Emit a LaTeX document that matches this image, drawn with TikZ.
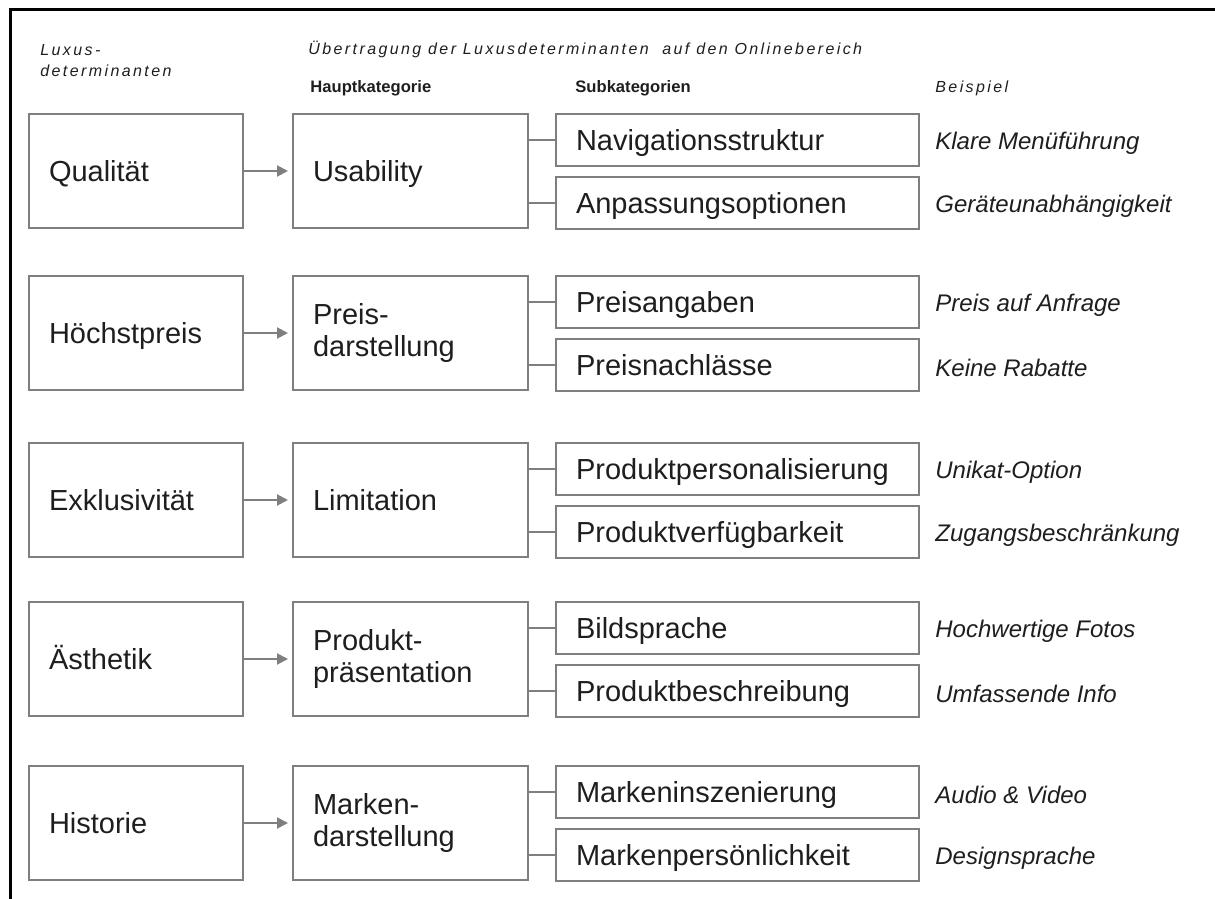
\documentclass[tikz,border=0pt]{standalone}
\usepackage{fontspec}
\setmainfont{Liberation Sans}
\usepackage{xcolor}
\usetikzlibrary{arrows.meta, positioning}

\definecolor{rahmengrau}{HTML}{7F7F7F}
\definecolor{schrift}{HTML}{1E1E1E}

\begin{document}
\begin{tikzpicture}[x=0.5pt, y=-0.5pt, font=\fontsize{14.5}{16}\selectfont, text=schrift,
        einzeilig/.style={text height=11.5pt, text depth=1pt},
        lux/.style={draw=rahmengrau, line width=1pt, anchor=north west, einzeilig,
                    minimum height=57pt, inner xsep=10pt, text width=87pt, align=left},
        haupt/.style={draw=rahmengrau, line width=1pt,
                      minimum height=57pt, inner xsep=10pt, text width=97.5pt, align=left},
        subbox/.style={draw=rahmengrau, line width=1pt, einzeilig,
                       minimum height=26pt, inner xsep=10pt, text width=161.5pt, align=left},
        bsp/.style={font=\fontsize{12}{14}\selectfont\itshape, inner sep=0pt, yshift=-1.5pt},
        kopf/.style={font=\fontsize{8}{10.5}\selectfont\itshape\addfontfeatures{LetterSpace=15},
                     inner sep=0pt, align=left},
        spalte/.style={font=\fontsize{8.3}{10}\selectfont\bfseries, inner sep=0pt, anchor=base west},
        pfeil/.style={draw=rahmengrau, line width=1pt, shorten >=2pt,
                      -{Triangle[length=5.5pt, width=5.5pt]}},
        ast/.style={draw=rahmengrau, line width=1pt}]
      \useasboundingbox (0,0) rectangle (1215,899);
      \draw[black, line width=1.5pt] (10,899) -- (10,9.5) -- (1215,9.5);
      % Kopfzeile
      \node[kopf, anchor=north west] (kopflux) at (40,44) {Luxus-\\determinanten};
      \node[kopf, anchor=base west] (kopfueb) at (308,55)
        {Übertragung der Luxusdeterminanten \ auf den Onlinebereich};
      \node[spalte] (kopfhaupt) at (310,93) {Hauptkategorie};
      \node[spalte] (kopfsub) at (575,93) {Subkategorien};
      \node[kopf, anchor=base west] (kopfbsp) at (935,93) {Beispiel};
      % Qualitaet
      \node[lux] (lux1) at (28,113) {Qualität};
      \node[haupt, einzeilig, right=24pt of lux1] (haupt1) {Usability};
      \node[subbox, right=13pt of haupt1.north east, anchor=north west] (suba1) {Navigationsstruktur};
      \node[subbox, below=4.5pt of suba1] (subb1) {Anpassungsoptionen};
      \node[bsp, right=7.5pt of suba1] (bspa1) {Klare Menüführung};
      \node[bsp, right=7.5pt of subb1] (bspb1) {Geräteunabhängigkeit};
      \draw[pfeil] (lux1) -- (haupt1);
      \draw[ast] (haupt1.east |- suba1) -- (suba1);
      \draw[ast] (haupt1.east |- subb1) -- (subb1);
      % Hoechstpreis
      \node[lux] (lux2) at (28,275) {Höchstpreis};
      \node[haupt, right=24pt of lux2] (haupt2) {Preis-\\darstellung};
      \node[subbox, right=13pt of haupt2.north east, anchor=north west] (suba2) {Preisangaben};
      \node[subbox, below=4.5pt of suba2] (subb2) {Preisnachlässe};
      \node[bsp, right=7.5pt of suba2] (bspa2) {Preis auf Anfrage};
      \node[bsp, right=7.5pt of subb2] (bspb2) {Keine Rabatte};
      \draw[pfeil] (lux2) -- (haupt2);
      \draw[ast] (haupt2.east |- suba2) -- (suba2);
      \draw[ast] (haupt2.east |- subb2) -- (subb2);
      % Exklusivitaet
      \node[lux] (lux3) at (28,442) {Exklusivität};
      \node[haupt, einzeilig, right=24pt of lux3] (haupt3) {Limitation};
      \node[subbox, right=13pt of haupt3.north east, anchor=north west] (suba3) {Produktpersonalisierung};
      \node[subbox, below=4.5pt of suba3] (subb3) {Produktverfügbarkeit};
      \node[bsp, right=7.5pt of suba3] (bspa3) {Unikat-Option};
      \node[bsp, right=7.5pt of subb3] (bspb3) {Zugangsbeschränkung};
      \draw[pfeil] (lux3) -- (haupt3);
      \draw[ast] (haupt3.east |- suba3) -- (suba3);
      \draw[ast] (haupt3.east |- subb3) -- (subb3);
      % Aesthetik
      \node[lux] (lux4) at (28,601) {Ästhetik};
      \node[haupt, right=24pt of lux4] (haupt4) {Produkt-\\präsentation};
      \node[subbox, right=13pt of haupt4.north east, anchor=north west] (suba4) {Bildsprache};
      \node[subbox, below=4.5pt of suba4] (subb4) {Produktbeschreibung};
      \node[bsp, right=7.5pt of suba4] (bspa4) {Hochwertige Fotos};
      \node[bsp, right=7.5pt of subb4] (bspb4) {Umfassende Info};
      \draw[pfeil] (lux4) -- (haupt4);
      \draw[ast] (haupt4.east |- suba4) -- (suba4);
      \draw[ast] (haupt4.east |- subb4) -- (subb4);
      % Historie
      \node[lux] (lux5) at (28,765) {Historie};
      \node[haupt, right=24pt of lux5] (haupt5) {Marken-\\darstellung};
      \node[subbox, right=13pt of haupt5.north east, anchor=north west] (suba5) {Markeninszenierung};
      \node[subbox, below=4.5pt of suba5] (subb5) {Markenpersönlichkeit};
      \node[bsp, right=7.5pt of suba5] (bspa5) {Audio \& Video};
      \node[bsp, right=7.5pt of subb5] (bspb5) {Designsprache};
      \draw[pfeil] (lux5) -- (haupt5);
      \draw[ast] (haupt5.east |- suba5) -- (suba5);
      \draw[ast] (haupt5.east |- subb5) -- (subb5);
    \end{tikzpicture}
\end{document}
